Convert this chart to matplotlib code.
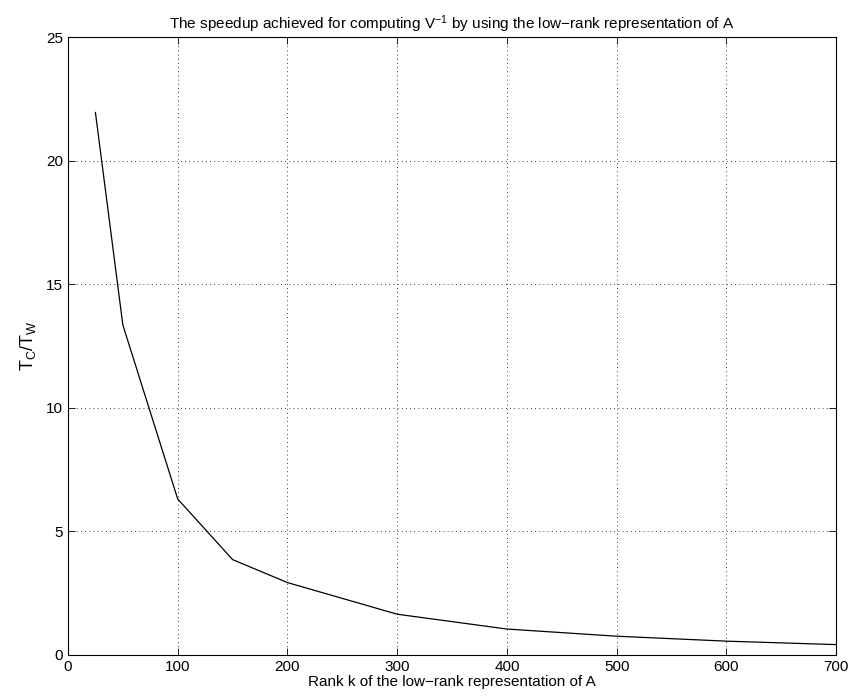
import matplotlib
matplotlib.use("Agg")
import matplotlib.pyplot as plt

# rank k of the low-rank representation and speedup T_C/T_W
rank_k = [25, 50, 100, 150, 200, 300, 400, 500, 600, 700]
speedup = [21.95, 13.35, 6.31, 3.86, 2.93, 1.65, 1.05, 0.76, 0.56, 0.42]

xticks = [0, 100, 200, 300, 400, 500, 600, 700]
yticks = [0, 5, 10, 15, 20, 25]

plt.rcParams['font.family'] = ['Liberation Sans', 'DejaVu Sans']
plt.rcParams['mathtext.fontset'] = 'custom'
plt.rcParams['mathtext.rm'] = 'Liberation Sans'
plt.rcParams['mathtext.it'] = 'Liberation Sans'

fig = plt.figure(figsize=(8.65, 7.0), dpi=100)
ax = fig.add_axes([0.0786, 0.0643, 0.888, 0.8827])

ax.plot(rank_k, speedup, color='black', linewidth=0.9)

ax.set_xlim(0, 700)
ax.set_ylim(0, 25)
ax.set_xticks(xticks)
ax.set_yticks(yticks)
ax.tick_params(direction='in', top=True, right=True, length=5, width=0.6,
               labelsize=11)
ax.grid(True, linestyle=(0, (1, 4)), color='black', linewidth=0.6)
for s in ax.spines.values():
    s.set_linewidth(0.8)

ax.set_xlabel('Rank k of the low\u2212rank representation of A', fontsize=11, labelpad=1)
ax.set_ylabel('$\\mathrm{T_C/T_W}$', fontsize=13, labelpad=6)
ax.set_title('The speedup achieved for computing $\\mathrm{V^{-1}}$ by using the low\u2212rank representation of A',
             fontsize=11, pad=6)

fig.savefig('out.png', dpi=100)
